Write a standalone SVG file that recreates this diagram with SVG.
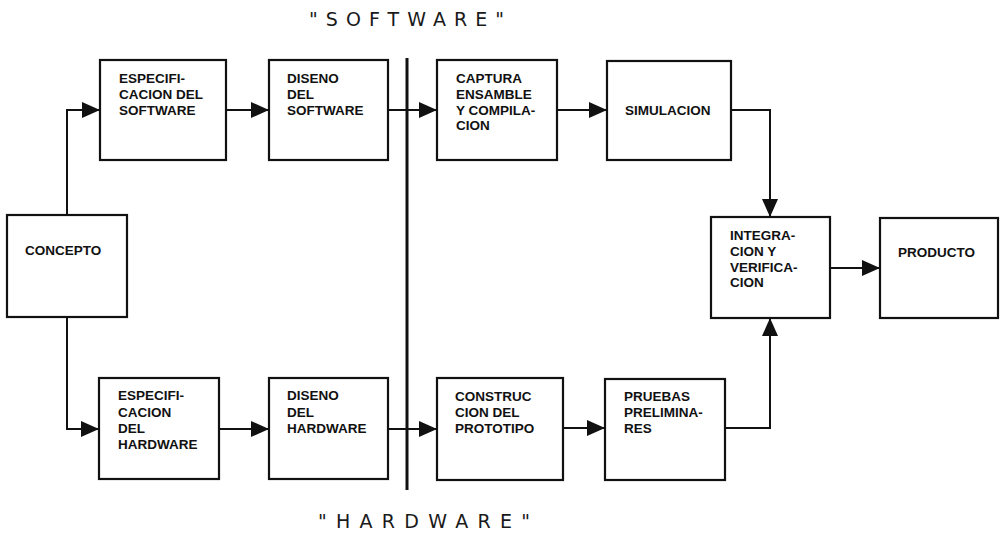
<svg xmlns="http://www.w3.org/2000/svg" width="1002" height="534" viewBox="0 0 1002 534">
  <defs>
    <marker id="arrow" markerUnits="userSpaceOnUse" markerWidth="19" markerHeight="16" refX="18" refY="8" orient="auto">
      <path d="M0,0 L18,8 L0,16 z" fill="#111"/>
    </marker>
    <style>
      .box { fill: #fff; stroke: #111; stroke-width: 2.2; }
      .lbl { font-family: "Liberation Sans", Arial, sans-serif; font-weight: bold; font-size: 13.5px; fill: #111; }
      .title { font-family: "DejaVu Sans", "Liberation Sans", sans-serif; font-size: 19px; fill: #1a1a1a; }
      .wire { fill: none; stroke: #111; stroke-width: 2; marker-end: url(#arrow); }
    </style>
  </defs>
  <rect width="1002" height="534" fill="#fff"/>

  <!-- section titles -->
  <text class="title" x="309" y="26" textLength="195" lengthAdjust="spacing">"SOFTWARE"</text>
  <text class="title" x="318" y="528" textLength="212" lengthAdjust="spacing">"HARDWARE"</text>

  <!-- divider between design and implementation -->
  <line x1="407" y1="58" x2="407" y2="490" stroke="#111" stroke-width="3"/>

  <!-- connectors -->
  <g id="connectors">
    <path class="wire" d="M67,215 V110 H100"/>
    <path class="wire" d="M226,110 H269"/>
    <path class="wire" d="M388,110 H437"/>
    <path class="wire" d="M557,110 H607"/>
    <path class="wire" d="M724,110 H770 V217"/>
    <path class="wire" d="M67,317 V429 H99"/>
    <path class="wire" d="M219,429 H269"/>
    <path class="wire" d="M388,429 H437"/>
    <path class="wire" d="M563,428 H605"/>
    <path class="wire" d="M725,428 H770 V318"/>
    <path class="wire" d="M830,268 H880"/>
  </g>

  <g id="concepto">
    <rect class="box" x="7" y="215" width="120" height="102"/>
    <text class="lbl" x="25" y="255">CONCEPTO</text>
  </g>

  <g id="espec-software">
    <rect class="box" x="100" y="60" width="126" height="100"/>
    <text class="lbl" x="119" y="83">ESPECIFI-</text>
    <text class="lbl" x="119" y="99">CACION DEL</text>
    <text class="lbl" x="119" y="115">SOFTWARE</text>
  </g>

  <g id="diseno-software">
    <rect class="box" x="269" y="60" width="119" height="100"/>
    <text class="lbl" x="287" y="83">DISENO</text>
    <text class="lbl" x="287" y="99">DEL</text>
    <text class="lbl" x="287" y="115">SOFTWARE</text>
  </g>

  <g id="captura">
    <rect class="box" x="437" y="60" width="120" height="100"/>
    <text class="lbl" x="456" y="83">CAPTURA</text>
    <text class="lbl" x="456" y="99">ENSAMBLE</text>
    <text class="lbl" x="456" y="115">Y COMPILA-</text>
    <text class="lbl" x="456" y="130">CION</text>
  </g>

  <g id="simulacion">
    <rect class="box" x="607" y="61" width="124" height="99"/>
    <text class="lbl" x="625" y="115">SIMULACION</text>
  </g>

  <g id="integracion">
    <rect class="box" x="711" y="217" width="119" height="101"/>
    <text class="lbl" x="730" y="240">INTEGRA-</text>
    <text class="lbl" x="730" y="256">CION Y</text>
    <text class="lbl" x="730" y="272">VERIFICA-</text>
    <text class="lbl" x="730" y="287">CION</text>
  </g>

  <g id="producto">
    <rect class="box" x="880" y="218" width="118" height="100"/>
    <text class="lbl" x="898" y="257">PRODUCTO</text>
  </g>

  <g id="espec-hardware">
    <rect class="box" x="99" y="378" width="120" height="101"/>
    <text class="lbl" x="118" y="400">ESPECIFI-</text>
    <text class="lbl" x="118" y="417">CACION</text>
    <text class="lbl" x="118" y="433">DEL</text>
    <text class="lbl" x="118" y="449">HARDWARE</text>
  </g>

  <g id="diseno-hardware">
    <rect class="box" x="269" y="378" width="119" height="101"/>
    <text class="lbl" x="287" y="400">DISENO</text>
    <text class="lbl" x="287" y="417">DEL</text>
    <text class="lbl" x="287" y="433">HARDWARE</text>
  </g>

  <g id="construccion">
    <rect class="box" x="437" y="378" width="126" height="102"/>
    <text class="lbl" x="455" y="401">CONSTRUC</text>
    <text class="lbl" x="455" y="417">CION DEL</text>
    <text class="lbl" x="455" y="433">PROTOTIPO</text>
  </g>

  <g id="pruebas">
    <rect class="box" x="605" y="379" width="120" height="101"/>
    <text class="lbl" x="624" y="401">PRUEBAS</text>
    <text class="lbl" x="624" y="417">PRELIMINA-</text>
    <text class="lbl" x="624" y="433">RES</text>
  </g>
</svg>
